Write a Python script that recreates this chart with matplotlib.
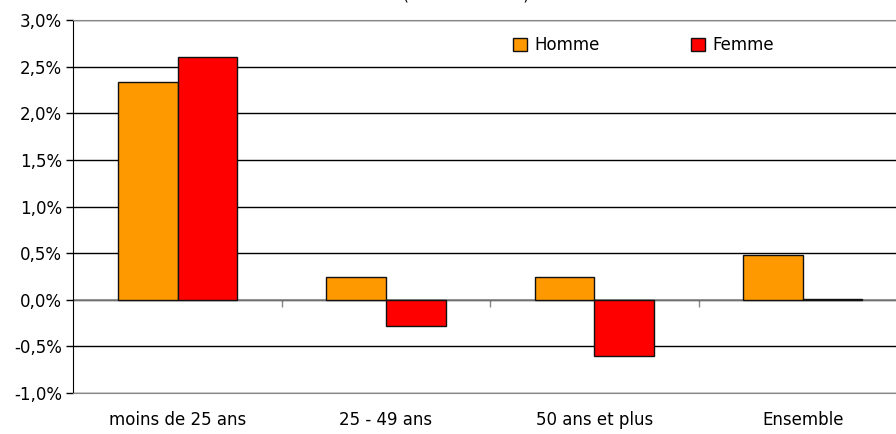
"""Bar chart: évolution par tranche d'âge et sexe"""

import numpy as np
from matplotlib import pyplot as plt
from matplotlib.ticker import FuncFormatter, FixedLocator

# Data
categories = ["moins de 25 ans", "25 - 49 ans", "50 ans et plus", "Ensemble"]
homme = [2.33, 0.24, 0.24, 0.48]
femme = [2.60, -0.28, -0.60, 0.01]
y_ticks = [-1.0, -0.5, 0.0, 0.5, 1.0, 1.5, 2.0, 2.5, 3.0]

plt.rcParams['font.family'] = ['DejaVu Sans']

fig = plt.figure(figsize=(8.96, 4.34), dpi=100)
ax = fig.add_axes([73.3 / 896, 41 / 434, 833.6 / 896, 373 / 434])

x = np.arange(len(categories))
width = 0.286

ax.bar(x - width / 2, homme, width, color='#FF9900', edgecolor='#111111',
       linewidth=1, label='Homme', zorder=3)
ax.bar(x + width / 2, femme, width, color='#FF0000', edgecolor='#111111',
       linewidth=1, label='Femme', zorder=3)

# Axis limits
ax.set_xlim(-0.5, len(categories) - 0.5)
ax.set_ylim(y_ticks[0], y_ticks[-1])

# Y axis
ax.set_yticks(y_ticks)
ax.yaxis.set_major_formatter(
    FuncFormatter(lambda v, p: f"{v:.1f}%".replace('.', ','))
)
ax.yaxis.grid(True, color='black', linewidth=1, zorder=0)
ax.tick_params(axis='y', direction='out', length=5, width=1,
               labelsize=12, pad=3)

# Category labels at the bottom
ax.set_xticks(x)
ax.set_xticklabels(categories)
ax.tick_params(axis='x', length=0, labelsize=12, pad=13)

# Frame
ax.spines['top'].set_color('#888888')
ax.spines['right'].set_visible(False)
ax.spines['bottom'].set_color('#888888')
ax.spines['left'].set_color('black')

# Zero axis with category boundary ticks
ax.axhline(0, color='#888888', linewidth=1.2, zorder=2)
sec = ax.secondary_xaxis((0 - y_ticks[0]) / (y_ticks[-1] - y_ticks[0]))
sec.xaxis.set_major_locator(FixedLocator(x[:-1] + 0.5))
sec.tick_params(axis='x', direction='out', length=5, width=1,
                colors='#888888', labelbottom=False, labeltop=False)
sec.spines['bottom'].set_visible(False)
sec.set_xticklabels([])

# Legend
ax.legend(loc='upper left', bbox_to_anchor=(513 / 896, 1 - 36 / 434),
          bbox_transform=fig.transFigure, ncol=2, frameon=False,
          fontsize=12, handlelength=0.84, handleheight=0.84,
          handletextpad=0.42, columnspacing=5.5, borderpad=0,
          borderaxespad=0)

# Title, clipped at the top of the image (only the parentheses peek in)
fig.text(466 / 896, 1.0, "(évolution en %)", ha='center',
         va='baseline', fontsize=11)

fig.savefig('out.png', dpi=100)
